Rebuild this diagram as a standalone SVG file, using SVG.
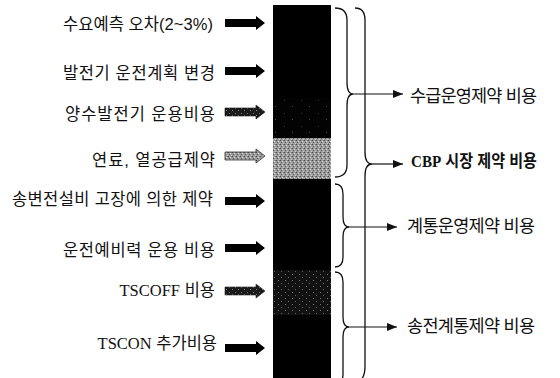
<svg xmlns="http://www.w3.org/2000/svg" width="560" height="378" viewBox="0 0 560 378">
<style>
.lbl{font-family:"Liberation Sans","Noto Sans CJK KR",sans-serif;font-size:16.5px;fill:#111;text-anchor:end}
.rl{font-family:"Liberation Sans","Noto Sans CJK KR",sans-serif;font-size:17.5px;fill:#111}
.ser{font-family:"Liberation Serif",serif}
.brace{fill:none;stroke:#111;stroke-width:1.3}
.link{fill:none;stroke:#111;stroke-width:1.2;marker-end:url(#ah)}
</style>
<defs>
<marker id="ah" viewBox="0 0 10 8" refX="10" refY="4" markerWidth="10" markerHeight="8" markerUnits="userSpaceOnUse" orient="auto"><path d="M0,0 L10,4 L0,8 Z" fill="#111"/></marker>
<path id="ba" d="M225,-4 H256 V-7 L265,0 L256,7 V4 H225 Z"/>
<pattern id="pl" width="4" height="4" patternUnits="userSpaceOnUse"><rect width="4" height="4" fill="#9c9c9c"/><rect x="0" y="0" width="1" height="1" fill="#444"/><rect x="2" y="1" width="1" height="1" fill="#e0e0e0"/><rect x="1" y="2" width="1" height="1" fill="#555"/><rect x="3" y="3" width="1" height="1" fill="#d0d0d0"/><rect x="3" y="0" width="1" height="1" fill="#777"/></pattern>
<pattern id="pd" width="7" height="6" patternUnits="userSpaceOnUse"><rect width="7" height="6" fill="#111"/><rect x="1" y="1" width="1" height="1" fill="#666"/><rect x="5" y="4" width="1" height="1" fill="#777"/></pattern>
<pattern id="ps" width="17" height="13" patternUnits="userSpaceOnUse"><rect width="17" height="13" fill="#030303"/><rect x="3" y="2" width="1" height="1" fill="#444"/><rect x="12" y="9" width="1" height="1" fill="#333"/></pattern>
<pattern id="pa" width="6" height="5" patternUnits="userSpaceOnUse"><rect width="6" height="5" fill="#1a1a1a"/><rect x="1" y="1" width="1" height="1" fill="#777"/><rect x="4" y="3" width="1" height="1" fill="#888"/></pattern>
</defs>
<rect width="560" height="378" fill="#fff"/>

<g id="bar">
<rect x="273" y="5" width="58" height="375" fill="#000"/>
<rect x="273" y="98" width="58" height="40" fill="url(#ps)"/>
<rect x="273" y="138" width="58" height="41" fill="url(#pl)"/>
<rect x="273" y="270" width="58" height="45" fill="url(#pd)"/>
</g>

<g id="connectors">
<use href="#ba" y="23" fill="#000"/>
<use href="#ba" y="71" fill="#000"/>
<use href="#ba" y="112" fill="url(#pa)" stroke="#111" stroke-width="0.6"/>
<use href="#ba" y="156" fill="url(#pl)" stroke="#333" stroke-width="0.8"/>
<use href="#ba" y="201" fill="#000"/>
<use href="#ba" y="248" fill="#000"/>
<use href="#ba" y="291" fill="url(#pa)" stroke="#222" stroke-width="0.6"/>
<use href="#ba" y="348" fill="#000"/>
<path class="brace" d="M335,8 Q347,8 347,20 L347,82 Q347,94 353,94 Q347,94 347,106 L347,165 Q347,177 335,177"/>
<path class="brace" d="M355,8 Q365,8 365,20 L365,152 Q365,164 372,164 Q365,164 365,176 L365,366 Q365,380 357,382"/>
<path class="brace" d="M335,184 Q343,184 343,194 L343,217 Q343,227 349,227 Q343,227 343,237 L343,257 Q343,267 335,267"/>
<path class="brace" d="M335,272 Q343,272 343,282 L343,317 Q343,327 349,327 Q343,327 343,337 L343,374 Q343,384 335,384"/>
<line class="link" x1="353" y1="94" x2="403" y2="94"/>
<line class="link" x1="372" y1="164" x2="403" y2="164"/>
<line class="link" x1="349" y1="227" x2="397" y2="227"/>
<line class="link" x1="349" y1="327" x2="397" y2="327"/>
</g>

<g id="n1"><text class="lbl" x="213" y="30" textLength="150">수요예측 오차(2~3%)</text></g>
<g id="n2"><text class="lbl" x="215" y="79" textLength="152">발전기 운전계획 변경</text></g>
<g id="n3"><text class="lbl" x="215" y="120" textLength="150">양수발전기 운용비용</text></g>
<g id="n4"><text class="lbl" x="215" y="166" textLength="123">연료, 열공급제약</text></g>
<g id="n5"><text class="lbl" x="213" y="205" textLength="201">송변전설비 고장에 의한 제약</text></g>
<g id="n6"><text class="lbl" x="215" y="256" textLength="152">운전예비력 운용 비용</text></g>
<g id="n7"><text class="lbl" x="215" y="296"><tspan class="ser" style="font-size:16.5px">TSCOFF</tspan> 비용</text></g>
<g id="n8"><text class="lbl" x="217" y="349"><tspan class="ser" style="font-size:16.5px">TSCON</tspan> 추가비용</text></g>

<g id="r1"><text class="rl" x="410" y="102" textLength="127">수급운영제약 비용</text></g>
<g id="r2"><text class="rl" x="411" y="167" textLength="126" lengthAdjust="spacingAndGlyphs" font-weight="bold" style="font-size:16.5px"><tspan class="ser">CBP</tspan> 시장 제약 비용</text></g>
<g id="r3"><text class="rl" x="407" y="232" textLength="128">계통운영제약 비용</text></g>
<g id="r4"><text class="rl" x="407" y="332" textLength="128">송전계통제약 비용</text></g>
</svg>
